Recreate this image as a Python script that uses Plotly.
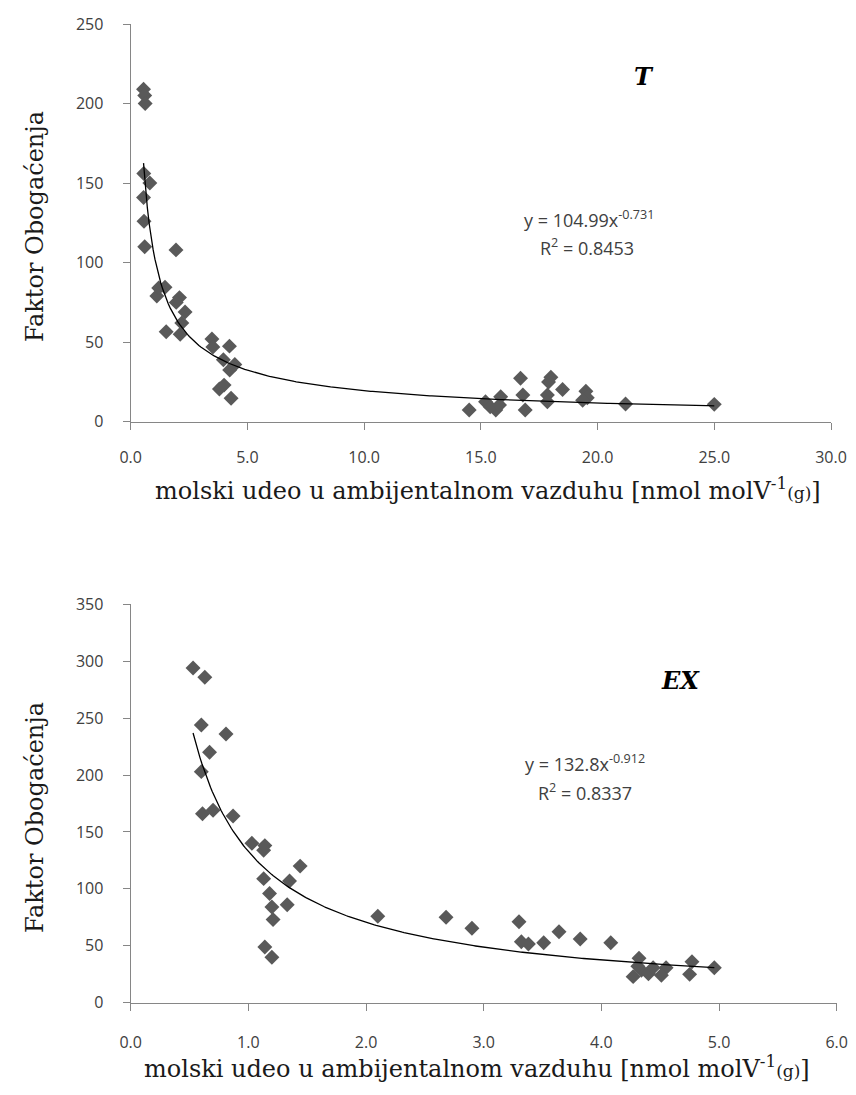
import numpy as np
import plotly.graph_objects as go

# Chart T (top) - scatter points
t_x = [0.55, 0.6, 0.62, 0.56, 0.82, 0.55, 0.57, 0.6, 1.94, 1.12, 1.47, 1.2, 2.09, 1.95, 2.33,
       2.19, 1.52, 2.12, 3.48, 3.52, 4.23, 3.97, 4.46, 4.24, 3.8, 4.0, 4.3,
       14.5, 15.2, 15.85, 15.64, 15.4, 15.8, 16.7, 16.8, 16.9, 18.0, 17.9, 18.5, 17.85,
       17.85, 19.5, 19.56, 19.36, 21.2, 25.0]
t_y = [209, 205, 200, 156, 150, 141, 126, 110, 108, 79, 84.5, 84, 78, 75, 69,
       62, 56.6, 55, 52, 47, 47.5, 39, 36, 32.5, 20.5, 23, 14.7,
       7.3, 12.6, 15.7, 7.3, 9.4, 10.5, 27.3, 16.8, 7.3, 27.9, 25, 20.3, 16.8,
       12.6, 19.2, 15, 13.5, 11.1, 10.9]
t_coef, t_exp, t_r2 = 104.99, -0.731, 0.8453

# Chart EX (bottom)
ex_x = [0.53, 0.63, 0.60, 0.81, 0.67, 0.60, 0.61, 0.70, 0.87, 1.03, 1.13, 1.14, 1.44, 1.13,
        1.35, 1.18, 1.20, 1.33, 1.21, 1.14, 1.20,
        2.10, 2.68, 2.90, 3.30, 3.32, 3.38, 3.51, 3.64, 3.82, 4.08, 4.32, 4.27, 4.34,
        4.40, 4.44, 4.55, 4.51, 4.31, 4.77, 4.75, 4.96]
ex_y = [294, 286, 244, 236, 220, 203, 166, 169, 164, 140, 134, 138, 120, 109,
        107, 96, 84, 86, 73, 49, 40,
        76, 75, 65.4, 71.2, 53.6, 51.6, 52.6, 62.4, 56, 52.6, 39, 22.9, 28.4,
        25.5, 30.7, 30.7, 24.2, 32, 36, 24.9, 30.7]
ex_coef, ex_exp, ex_r2 = 132.8, -0.912, 0.8337

# the page keeps the browser's 8px body margin, so the figure is 16px smaller
OFF = 8
W, H = 856 - 2 * OFF, 1095 - 2 * OFF
MARKER = "#595959"
AXIS = "#868686"
SERIF = "DejaVu Serif"
SANS = "Open Sans"


def hx(x):
    return (x - OFF) / W


def vy(y):
    return 1 - (y - OFF) / H


fig = go.Figure()

for xs, ys, coef, ex, ax in [(t_x, t_y, t_coef, t_exp, ("x", "y")),
                             (ex_x, ex_y, ex_coef, ex_exp, ("x2", "y2"))]:
    fig.add_trace(go.Scatter(x=xs, y=ys, mode="markers", xaxis=ax[0], yaxis=ax[1],
                             marker=dict(symbol="diamond", size=11.5, color=MARKER),
                             showlegend=False))
    # power trendline from the equation shown on the chart
    xf = np.linspace(min(xs), max(xs), 300)
    fig.add_trace(go.Scatter(x=xf, y=coef * xf ** ex, mode="lines", xaxis=ax[0], yaxis=ax[1],
                             line=dict(color="black", width=1.3), showlegend=False))

axis_common = dict(showline=True, linecolor=AXIS, linewidth=1.3, ticks="outside",
                   tickcolor=AXIS, ticklen=7, showgrid=False, zeroline=False, automargin=False,
                   tickfont=dict(family=SANS, size=16, color="#404040"))

fig.update_layout(
    width=W, height=H, margin=dict(l=0, r=0, t=0, b=0),
    plot_bgcolor="white", paper_bgcolor="white",
    xaxis=dict(domain=[hx(130.7), hx(831)], range=[0, 30], tickvals=list(range(0, 31, 5)),
               tickformat=".1f", anchor="y", ticklabelstandoff=14, **axis_common),
    yaxis=dict(domain=[vy(421.7), vy(24)], range=[0, 250], dtick=50,
               anchor="x", ticklabelstandoff=16, **axis_common),
    xaxis2=dict(domain=[hx(130.7), hx(836.7)], range=[0, 6], dtick=1,
                tickformat=".1f", anchor="y2", ticklabelstandoff=18, **axis_common),
    yaxis2=dict(domain=[vy(1002.7), vy(604.3)], range=[0, 350], dtick=50,
                anchor="x2", ticklabelstandoff=16, **axis_common),
)

xlabel = ("molski udeo u ambijentalnom vazduhu [nmol molV<sup>-1</sup>"
          "<span style='font-size:17px'>(g)</span>]")
ylabel = "Faktor Obogaćenja"
title_font = dict(family=SERIF, size=24, color="#1a1a1a")
eq_font = dict(family=SANS, size=18, color="#404040")
tag_font = dict(family=SERIF, size=24, color="black")

notes = [
    (488, 489, xlabel, title_font, 0, "middle"),
    (477, 1085, xlabel, title_font, 0, "bottom"),
    (35, 227, ylabel, title_font, -90, "middle"),
    (35, 818, ylabel, title_font, -90, "middle"),
    (644, 77, "<b><i>T</i></b>", tag_font, 0, "middle"),
    (680, 680, "<b><i>EX</i></b>", tag_font, 0, "middle"),
    (589, 219, f"y = {t_coef}x<sup>{t_exp}</sup>", eq_font, 0, "middle"),
    (587, 247, f"R<sup>2</sup> = {t_r2}", eq_font, 0, "middle"),
    (585, 763, f"y = {ex_coef}x<sup>{ex_exp}</sup>", eq_font, 0, "middle"),
    (585, 792, f"R<sup>2</sup> = {ex_r2}", eq_font, 0, "middle"),
]
for x, y, text, font, angle, ya in notes:
    fig.add_annotation(x=hx(x), y=vy(y), xref="paper", yref="paper", text=text, showarrow=False,
                       font=font, textangle=angle, xanchor="center", yanchor=ya)

fig.write_html("out.html", config={"displayModeBar": False})
